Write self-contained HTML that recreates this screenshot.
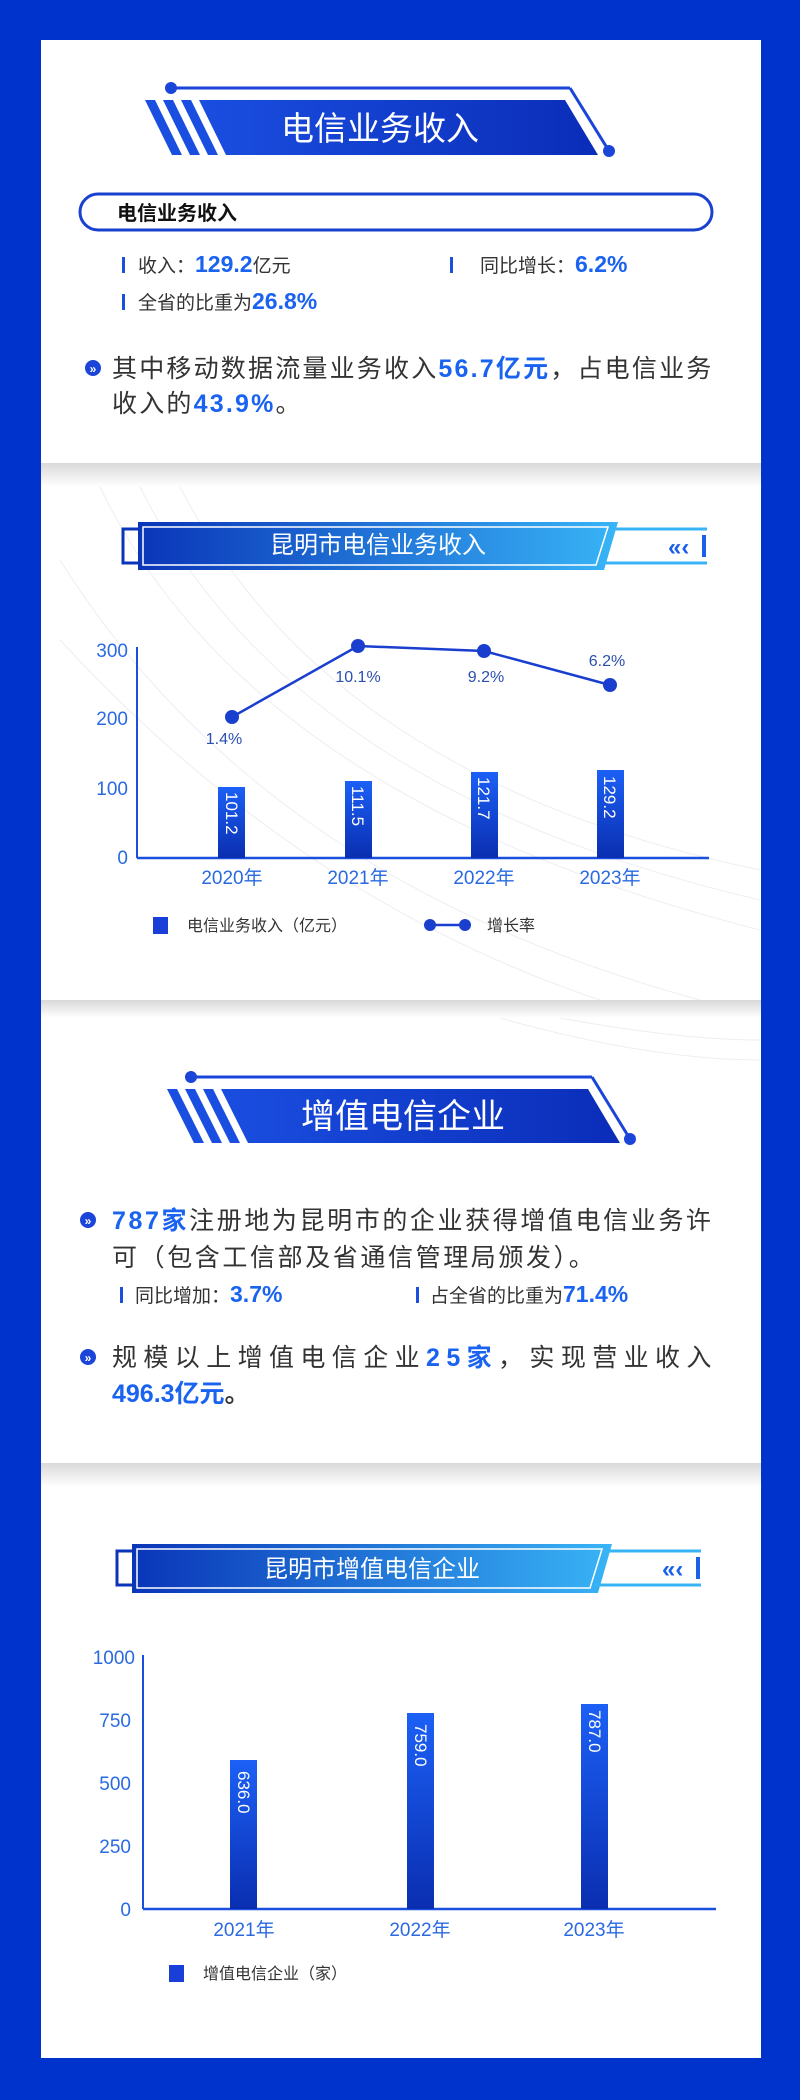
<!DOCTYPE html>
<html><head><meta charset="utf-8">
<style>
html,body{margin:0;padding:0;background:#0033cc;}
svg{display:block;font-family:"Liberation Sans","Noto Sans CJK SC",sans-serif;}
</style></head>
<body>
<svg width="800" height="2100" viewBox="0 0 800 2100" xmlns="http://www.w3.org/2000/svg">
<defs>
<linearGradient id="bn" x1="0" x2="1" y1="0" y2="0"><stop offset="0" stop-color="#1a4ee0"/><stop offset="1" stop-color="#0a2db8"/></linearGradient>
<linearGradient id="bn2" x1="0" x2="1"><stop offset="0" stop-color="#0a35b8"/><stop offset="1" stop-color="#38b4f6"/></linearGradient>
<linearGradient id="bar" x1="0" x2="0" y1="0" y2="1"><stop offset="0" stop-color="#1c60f6"/><stop offset="1" stop-color="#0a2eb0"/></linearGradient>
<linearGradient id="sep" x1="0" x2="0" y1="0" y2="1"><stop offset="0" stop-color="#d9d9d9"/><stop offset="1" stop-color="#ffffff"/></linearGradient>
</defs>
<rect x="0" y="0" width="800" height="2100" fill="#0033cc"/>
<rect x="41" y="40" width="720" height="2018" fill="#ffffff"/>
<g fill="none" stroke="#eceef3" stroke-width="1">
<path d="M100 487 Q250 800 760 930"/><path d="M140 487 Q290 790 760 900"/><path d="M180 487 Q330 780 760 870"/>
<path d="M60 560 Q260 880 700 1000"/><path d="M60 640 Q300 900 600 1000"/>
<path d="M500 1018 Q650 1060 760 1060"/><path d="M560 1018 Q680 1040 760 1040"/>
</g>
<rect x="41" y="463" width="720" height="24" fill="url(#sep)"/>
<rect x="41" y="1000" width="720" height="18" fill="url(#sep)"/>
<rect x="41" y="1463" width="720" height="24" fill="url(#sep)"/>

<line x1="171" y1="88" x2="570" y2="88" stroke="#1a45d8" stroke-width="3"/>
<line x1="570" y1="88" x2="609" y2="151" stroke="#1a45d8" stroke-width="3"/>
<circle cx="171" cy="88" r="6" fill="#1a45d8"/><circle cx="609" cy="151" r="6" fill="#1a45d8"/>
<polygon points="145,100 155,100 182,155 172,155" fill="#1a4ee0"/>
<polygon points="163,100 173,100 200,155 190,155" fill="#1a4ee0"/>
<polygon points="181,100 191,100 218,155 208,155" fill="#1a4ee0"/>
<polygon points="199,100 565,100 598,155 226,155" fill="url(#bn)"/>
<text x="380" y="140" font-size="33" fill="#fff" text-anchor="middle">电信业务收入</text>

<rect x="80" y="194" width="632" height="36" rx="18" fill="none" stroke="#1a40d0" stroke-width="3"/>
<text x="117" y="220" font-size="20" font-weight="bold" fill="#111">电信业务收入</text>

<g font-size="19" fill="#333">
<rect x="122" y="257" width="3" height="16" fill="#1a50e0"/>
<text x="138" y="272">收入：<tspan fill="#1a62f0" font-size="23" font-weight="bold">129.2</tspan>亿元</text>
<rect x="450" y="257" width="3" height="16" fill="#1a50e0"/>
<text x="480" y="272">同比增长：<tspan fill="#1a62f0" font-size="23" font-weight="bold">6.2%</tspan></text>
<rect x="122" y="294" width="3" height="16" fill="#1a50e0"/>
<text x="138" y="309">全省的比重为<tspan fill="#1a62f0" font-size="23" font-weight="bold">26.8%</tspan></text>
</g>
<circle cx="93" cy="368" r="8" fill="#1a45d8"/><text x="93" y="373" font-size="12" fill="#fff" text-anchor="middle" font-weight="bold">»</text>
<g font-size="25" fill="#333" letter-spacing="2.2">
<text x="112" y="377">其中移动数据流量业务收入<tspan fill="#1a62f0" font-weight="bold">56.7亿元</tspan>，占电信业务</text>
<text x="112" y="412">收入的<tspan fill="#1a62f0" font-weight="bold">43.9%</tspan>。</text>
</g>

<rect x="123" y="529" width="20" height="34" fill="none" stroke="#0a35b8" stroke-width="3"/>
<polygon points="138,522 618,522 604,570 138,570" fill="url(#bn2)"/>
<polygon points="143,527 608,527 596,565 143,565" fill="none" stroke="#fff" stroke-width="1.5"/>
<line x1="610" y1="529" x2="707" y2="529" stroke="#38b4f6" stroke-width="3"/>
<line x1="600" y1="563" x2="707" y2="563" stroke="#38b4f6" stroke-width="3"/>
<text x="668" y="555" font-size="24" font-weight="bold" fill="#1a60e8">«‹</text>
<rect x="702" y="535" width="4" height="22" fill="#1a60e8"/>
<text x="378" y="553" font-size="24" fill="#fff" text-anchor="middle">昆明市电信业务收入</text>

<g font-size="19" fill="#2a6ae0" text-anchor="end">
<text x="128" y="657">300</text><text x="128" y="725">200</text><text x="128" y="795">100</text><text x="128" y="864">0</text>
</g>
<line x1="137" y1="647" x2="137" y2="858" stroke="#1a50e0" stroke-width="2"/>
<line x1="137" y1="858" x2="709" y2="858" stroke="#1a50e0" stroke-width="2.5"/>
<rect x="218" y="787" width="27" height="71" fill="url(#bar)"/>
<rect x="345" y="781" width="27" height="77" fill="url(#bar)"/>
<rect x="471" y="772" width="27" height="86" fill="url(#bar)"/>
<rect x="597" y="770" width="27" height="88" fill="url(#bar)"/>
<g font-size="17" fill="#fff">
<text transform="translate(226,792) rotate(90)">101.2</text>
<text transform="translate(352,786) rotate(90)">111.5</text>
<text transform="translate(478,777) rotate(90)">121.7</text>
<text transform="translate(604,776) rotate(90)">129.2</text>
</g>
<polyline points="232,717 358,646 484,651 610,685" fill="none" stroke="#1a3fcf" stroke-width="2.5"/>
<g fill="#1a3fcf"><circle cx="232" cy="717" r="7"/><circle cx="358" cy="646" r="7"/><circle cx="484" cy="651" r="7"/><circle cx="610" cy="685" r="7"/></g>
<g font-size="16" fill="#2a4fb0" text-anchor="middle">
<text x="224" y="744">1.4%</text><text x="358" y="682">10.1%</text><text x="486" y="682">9.2%</text><text x="607" y="666">6.2%</text>
</g>
<g font-size="19" fill="#2a6ae0" text-anchor="middle">
<text x="232" y="884">2020年</text><text x="358" y="884">2021年</text><text x="484" y="884">2022年</text><text x="610" y="884">2023年</text>
</g>
<rect x="153" y="917" width="15" height="17" fill="#1a3fd8"/>
<text x="187" y="931" font-size="16" fill="#333">电信业务收入（亿元）</text>
<line x1="430" y1="925" x2="465" y2="925" stroke="#1a3fcf" stroke-width="2.5"/>
<circle cx="430" cy="925" r="6" fill="#1a3fcf"/><circle cx="465" cy="925" r="6" fill="#1a3fcf"/>
<text x="487" y="931" font-size="16" fill="#333">增长率</text>

<line x1="191" y1="1077" x2="592" y2="1077" stroke="#1a45d8" stroke-width="3"/>
<line x1="592" y1="1077" x2="630" y2="1139" stroke="#1a45d8" stroke-width="3"/>
<circle cx="191" cy="1077" r="6" fill="#1a45d8"/><circle cx="630" cy="1139" r="6" fill="#1a45d8"/>
<polygon points="167,1089 177,1089 204,1143 194,1143" fill="#1a4ee0"/>
<polygon points="185,1089 195,1089 222,1143 212,1143" fill="#1a4ee0"/>
<polygon points="203,1089 213,1089 240,1143 230,1143" fill="#1a4ee0"/>
<polygon points="221,1089 588,1089 620,1143 248,1143" fill="url(#bn)"/>
<text x="403" y="1128" font-size="34" fill="#fff" text-anchor="middle">增值电信企业</text>

<circle cx="88" cy="1220" r="8" fill="#1a45d8"/><text x="88" y="1225" font-size="12" fill="#fff" text-anchor="middle" font-weight="bold">»</text>
<g font-size="25" fill="#333" letter-spacing="2.6">
<text x="112" y="1229"><tspan fill="#1a62f0" font-weight="bold">787家</tspan>注册地为昆明市的企业获得增值电信业务许</text>
<text x="112" y="1266">可（包含工信部及省通信管理局颁发）。</text>
</g>
<g font-size="19" fill="#333">
<rect x="120" y="1287" width="3" height="16" fill="#1a50e0"/>
<text x="135" y="1302">同比增加：<tspan fill="#1a62f0" font-size="23" font-weight="bold">3.7%</tspan></text>
<rect x="416" y="1287" width="3" height="16" fill="#1a50e0"/>
<text x="430" y="1302">占全省的比重为<tspan fill="#1a62f0" font-size="23" font-weight="bold">71.4%</tspan></text>
</g>
<circle cx="88" cy="1357" r="8" fill="#1a45d8"/><text x="88" y="1362" font-size="12" fill="#fff" text-anchor="middle" font-weight="bold">»</text>
<g font-size="25" fill="#333">
<text x="112" y="1366" letter-spacing="6.4">规模以上增值电信企业<tspan fill="#1a62f0" font-weight="bold">25家</tspan>，实现营业收入</text>
<text x="112" y="1402" fill="#1a62f0" font-weight="bold">496.3亿元<tspan fill="#333">。</tspan></text>
</g>

<rect x="117" y="1551" width="18" height="34" fill="none" stroke="#0a35b8" stroke-width="3"/>
<polygon points="132,1544 612,1544 598,1593 132,1593" fill="url(#bn2)"/>
<polygon points="137,1549 602,1549 590,1588 137,1588" fill="none" stroke="#fff" stroke-width="1.5"/>
<line x1="604" y1="1551" x2="701" y2="1551" stroke="#38b4f6" stroke-width="3"/>
<line x1="594" y1="1585" x2="701" y2="1585" stroke="#38b4f6" stroke-width="3"/>
<text x="662" y="1577" font-size="24" font-weight="bold" fill="#1a60e8">«‹</text>
<rect x="696" y="1557" width="4" height="22" fill="#1a60e8"/>
<text x="372" y="1577" font-size="24" fill="#fff" text-anchor="middle">昆明市增值电信企业</text>

<g font-size="19" fill="#2a6ae0" text-anchor="end">
<text x="135" y="1664">1000</text><text x="131" y="1727">750</text><text x="131" y="1790">500</text><text x="131" y="1853">250</text><text x="131" y="1916">0</text>
</g>
<line x1="143" y1="1655" x2="143" y2="1909" stroke="#1a50e0" stroke-width="2"/>
<line x1="143" y1="1909" x2="716" y2="1909" stroke="#1a50e0" stroke-width="2.5"/>
<rect x="230" y="1760" width="27" height="149" fill="url(#bar)"/>
<rect x="407" y="1713" width="27" height="196" fill="url(#bar)"/>
<rect x="581" y="1704" width="27" height="205" fill="url(#bar)"/>
<g font-size="17" fill="#fff">
<text transform="translate(238,1771) rotate(90)">636.0</text>
<text transform="translate(415,1724) rotate(90)">759.0</text>
<text transform="translate(589,1710) rotate(90)">787.0</text>
</g>
<g font-size="19" fill="#2a6ae0" text-anchor="middle">
<text x="244" y="1936">2021年</text><text x="420" y="1936">2022年</text><text x="594" y="1936">2023年</text>
</g>
<rect x="169" y="1965" width="15" height="17" fill="#1a3fd8"/>
<text x="203" y="1979" font-size="16" fill="#333">增值电信企业（家）</text>
</svg>
</body></html>
